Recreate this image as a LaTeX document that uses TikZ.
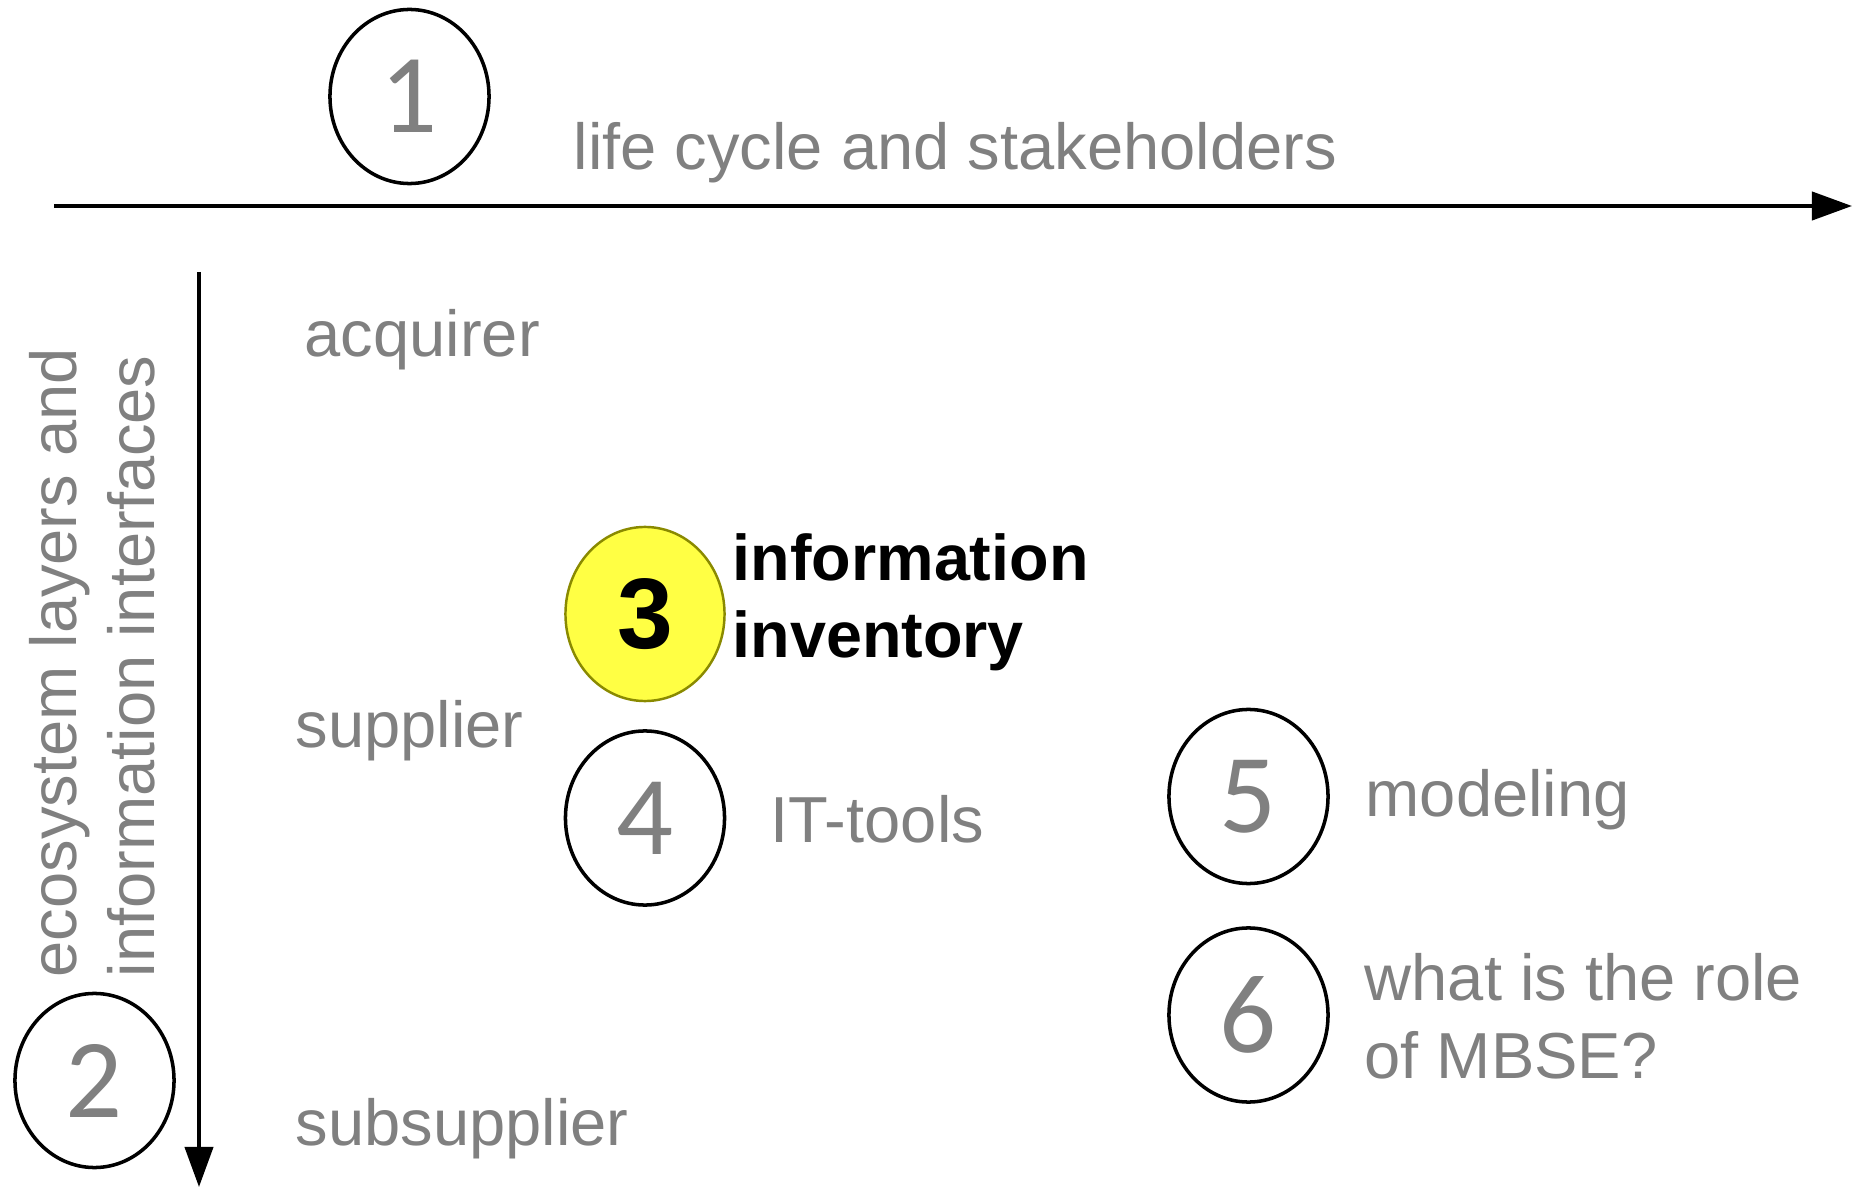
\documentclass[tikz,border=0pt]{standalone}
\usepackage{fontspec}
\setmainfont{Liberation Sans}
\newfontfamily\digitfont{Carlito}
\usetikzlibrary{shapes.geometric,arrows.meta}
\definecolor{txtgray}{HTML}{808080}
\definecolor{hiyellow}{HTML}{FFFF44}
\definecolor{hiborder}{HTML}{8A8A00}
\begin{document}
\begin{tikzpicture}[x=0.01cm,y=-0.01cm,
  numcirc/.style={ellipse,draw=black,line width=1pt,minimum width=1.59cm,minimum height=1.74cm,inner sep=0pt,text=txtgray,font=\digitfont\fontsize{32}{36}\selectfont},
  hicirc/.style={numcirc,fill=hiyellow,draw=hiborder,line width=0.7pt,text=black,font=\bfseries\fontsize{28.5}{32}\selectfont},
  lbl/.style={anchor=base west,inner sep=0pt,text=txtgray,font=\fontsize{18.5}{21.9}\selectfont,align=left},
  hilbl/.style={lbl,text=black,font=\bfseries\fontsize{18.4}{21.9}\selectfont},
  axis/.style={line width=1.1pt,-{Triangle[length=11.4pt,width=8pt]}}]
\useasboundingbox (0,0) rectangle (1856,1188);

% axes
\coordinate (hstart) at (54,206);
\coordinate (hend) at (1852,206);
\coordinate (vstart) at (199,272);
\coordinate (vend) at (199,1187);
\draw[axis] (hstart) -- (hend);
\draw[axis] (vstart) -- (vend);

% numbered circles
\node[numcirc] (c1) at (409.5,96.5) {1};
\node[numcirc] (c2) at (94.5,1080.5) {2};
\node[hicirc]  (c3) at (645,614) {3};
\node[numcirc] (c4) at (645,818) {4};
\node[numcirc] (c5) at (1248.5,796.5) {5};
\node[numcirc] (c6) at (1248.5,1015) {6};

% labels (multi-line nodes: base = last line)
\node[lbl] (t1) at (573,170) {life cycle and stakeholders};
\node[lbl,rotate=90] (t2) at (154,978) {ecosystem layers and\\information interfaces};
\node[hilbl] (t3) at (732,658) {information\\inventory};
\node[lbl] (t4) at (770,843) {IT-tools};
\node[lbl] (t5) at (1365,817) {modeling};
\node[lbl] (t6) at (1364,1078) {what is the role\\of MBSE?};

\node[lbl] (acq) at (304,357) {acquirer};
\node[lbl] (sup) at (295,748) {supplier};
\node[lbl] (sub) at (295,1145) {subsupplier};
\end{tikzpicture}
\end{document}
